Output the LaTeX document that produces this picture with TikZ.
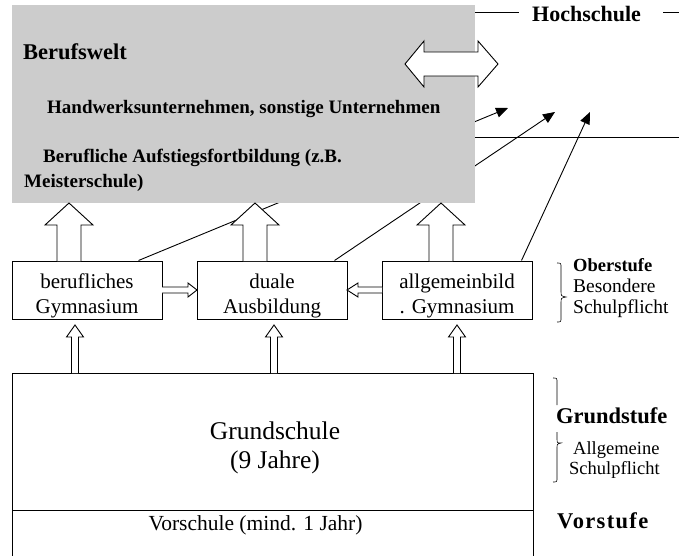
\documentclass[tikz,border=0pt]{standalone}
\usepackage{fontspec}
\setmainfont{Liberation Serif}
\usetikzlibrary{arrows.meta,calc}
\definecolor{boxgray}{HTML}{CCCCCC}
\newcommand\hollowv[6]{% x, ytail, ybase, ytip, shaft half, head half
  \draw[hollow] ({#1-#5},#2) -- ({#1-#5},#3) -- ({#1-#6},#3) -- (#1,#4) -- ({#1+#6},#3) -- ({#1+#5},#3) -- ({#1+#5},#2);}
\newcommand\hollowh[6]{% y, xtail, xbase, xtip, shaft half, head half
  \draw[hollow] (#2,{#1-#5}) -- (#3,{#1-#5}) -- (#3,{#1-#6}) -- (#4,#1) -- (#3,{#1+#6}) -- (#3,{#1+#5}) -- (#2,{#1+#5});}
\begin{document}
\begin{tikzpicture}[x=1pt,y=-1pt,
  boxnode/.style={draw,line width=1pt,minimum width=150pt,minimum height=58pt,inner sep=0pt},
  boxtext/.style={inner sep=0pt,align=center,font=\fontsize{21}{25}\selectfont},
  hollow/.style={draw,fill=white,line width=0.9pt,line join=miter},
  conn/.style={line width=0.9pt,-{Triangle[length=12pt,width=10pt]}},
  lab/.style={anchor=base west,inner sep=0pt,font=\fontsize{19.5}{22}\selectfont},
  slab/.style={anchor=base west,inner sep=0pt,font=\fontsize{18.5}{21}\selectfont},
  blab/.style={anchor=base west,inner sep=0pt,font=\bfseries\fontsize{22.5}{26}\selectfont},
  glab/.style={anchor=base west,inner sep=0pt,font=\bfseries\fontsize{19}{22}\selectfont},
  plain/.style={line width=0.9pt},
  bracestyle/.style={line width=0.6pt}]
\useasboundingbox (0,0) rectangle (679,556);

% boxes
\node[boxnode] (b1) at (87,290) {};
\node[boxnode] (b2) at (272,290) {};
\node[boxnode] (b3) at (457,290) {};
\node[boxtext] (t1) at (87,295.5) {berufliches\\Gymnasium};
\node[boxtext] (t2) at (272,295.5) {duale\\Ausbildung};
\node[boxtext] (t3) at (457,295.5) {allgemeinbild\\. Gymnasium};

% free ends of the slanted connectors
\coordinate (h1) at (508,108);
\coordinate (h2) at (555,112);
\coordinate (h3) at (590,112);
\draw[conn] ($(b1.north west)+(127,0)$) -- (h1);
\draw[conn] ($(b2.north west)+(138,0)$) -- (h2);
\draw[conn] ($(b3.north west)+(140,0)$) -- (h3);

% Berufswelt block
\fill[boxgray] (12,5) rectangle (475,203);
\node[anchor=base west,inner sep=0pt,font=\bfseries\fontsize{22.5}{26}\selectfont] (bw) at (23,60) {Berufswelt};
\node[glab] (hw) at (47,114) {Handwerksunternehmen, sonstige Unternehmen};
\node[glab] (bf) at (43,162) {Berufliche Aufstiegsfortbildung (z.B.};
\node[glab] (ms) at (24,187) {Meisterschule)};

% double arrow
\draw[hollow] (405,64) -- (424,41) -- (424,52) -- (478,52) -- (478,41) -- (498,64)
  -- (478,87) -- (478,76) -- (424,76) -- (424,87) -- cycle;

% Hochschule
\node[anchor=base west,inner sep=0pt,font=\bfseries\fontsize{22}{26}\selectfont] (hs) at (532,22) {Hochschule};
\draw[plain] (475,12) -- (519,12);
\draw[plain] (663,12) -- (679,12);
\draw[plain] (475,137) -- (679,137);

% big up arrows
\hollowv{69}{261}{225}{203}{12}{24}
\hollowv{255}{261}{225}{203}{12}{24}
\hollowv{441}{261}{225}{203}{12}{24}

% horizontal arrows between boxes
\hollowh{290}{162}{188}{197}{3}{7}
\hollowh{290}{382}{358}{347}{3}{7}

% Grundschule and Vorschule
\node[draw,line width=1pt,minimum width=521pt,minimum height=137pt,inner sep=0pt] (gs) at (272.5,441.5) {};
\node[draw,line width=1pt,minimum width=521pt,minimum height=60pt,inner sep=0pt] (vs) at (272.5,540) {};
\node[inner sep=0pt,align=center,font=\fontsize{25.5}{29}\selectfont] (gst) at (275,447.6) {Grundschule\\(9 Jahre)};
\node[anchor=base,inner sep=0pt,font=\fontsize{21.5}{25}\selectfont] (vst) at (255.5,530) {Vorschule (mind. 1 Jahr)};

% small up arrows
\hollowv{75}{373}{337}{325}{3.5}{8.5}
\hollowv{274}{373}{337}{325}{3.5}{8.5}
\hollowv{457}{373}{337}{325}{3.5}{8.5}

% right labels
\draw[bracestyle] (557,263) .. controls (561,263) .. (561,268) -- (561,291)
  .. controls (561,296) .. (566,297) .. controls (561,298) .. (561,303) -- (561,317)
  .. controls (561,322) .. (557,322);
\node[anchor=base west,inner sep=0pt,font=\bfseries\fontsize{18.5}{21}\selectfont] (os) at (573,271) {Oberstufe};
\node[lab] (bs) at (573,292) {Besondere};
\node[lab] (sp1) at (573,313) {Schulpflicht};

\draw[bracestyle] (553,378) .. controls (557,378) .. (557,383) -- (557,405);
\draw[bracestyle] (557,432) -- (557,438) .. controls (557,443) .. (561,443)
  .. controls (557,444) .. (557,448) -- (557,477) .. controls (557,482) .. (553,482);
\node[blab] (gsl) at (556,423) {Grundstufe};
\node[slab] (ag) at (573,454) {Allgemeine};
\node[slab] (sp2) at (569,474) {Schulpflicht};
\node[anchor=base west,inner sep=0pt,font=\bfseries\fontsize{22.5}{26}\selectfont\addfontfeature{LetterSpace=6}] (vsl) at (557,528) {Vorstufe};
\end{tikzpicture}
\end{document}
